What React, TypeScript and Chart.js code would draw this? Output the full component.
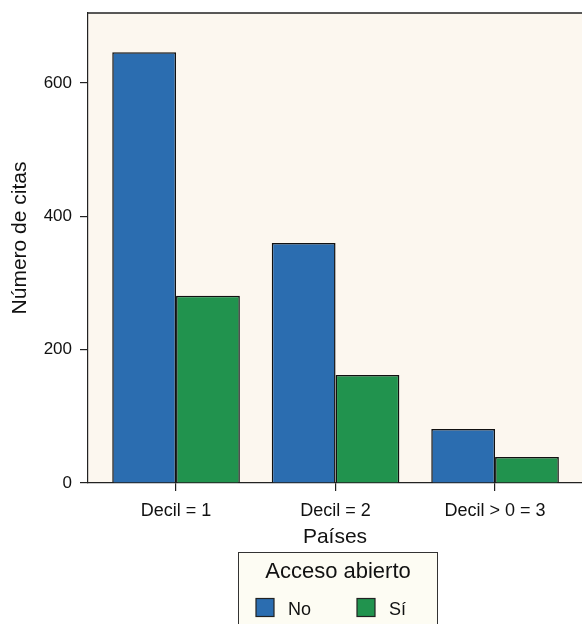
import React, { useEffect, useRef } from "react";
import { Chart, registerables } from "chart.js";

Chart.register(...registerables);

const categories = ["Decil = 1", "Decil = 2", "Decil > 0 = 3"];
const noValues = [646, 360, 81];
const siValues = [281, 162, 39];
const seriesLabels = ["No", "Sí"];
const yTicks = [0, 200, 400, 600];
const legendTitle = "Acceso abierto";
const yTitle = "Número de citas";
const xTitle = "Países";

const BLUE = "#2b6db0";
const GREEN = "#21934e";
const FONT = "'Liberation Sans', Arial, Helvetica, sans-serif";

const decorPlugin = {
  id: "decor",
  beforeDraw(chart: any) {
    const { ctx, chartArea } = chart;
    ctx.save();
    ctx.fillStyle = "#fcf7ef";
    ctx.fillRect(chartArea.left, chartArea.top, chartArea.right - chartArea.left, chartArea.bottom - chartArea.top);
    ctx.restore();
  },
  afterDraw(chart: any) {
    const { ctx, chartArea } = chart;
    ctx.save();
    ctx.strokeStyle = "#222";
    ctx.lineWidth = 1.5;
    ctx.beginPath();
    ctx.moveTo(chartArea.left, chartArea.top);
    ctx.lineTo(chartArea.right, chartArea.top);
    ctx.stroke();

    // y-axis title
    ctx.save();
    ctx.translate(20, 238);
    ctx.rotate(-Math.PI / 2);
    ctx.fillStyle = "#111";
    ctx.font = `21px ${FONT}`;
    ctx.textAlign = "center";
    ctx.textBaseline = "middle";
    ctx.fillText(yTitle, 0, 0);
    ctx.restore();

    // legend box
    const lx = 238.5, ly = 552.5, lw = 199, lh = 80;
    ctx.fillStyle = "#fdfcf3";
    ctx.fillRect(lx, ly, lw, lh);
    ctx.strokeStyle = "#333";
    ctx.lineWidth = 1;
    ctx.strokeRect(lx, ly, lw, lh);
    ctx.fillStyle = "#111";
    ctx.font = `22px ${FONT}`;
    ctx.textAlign = "center";
    ctx.textBaseline = "alphabetic";
    ctx.fillText(legendTitle, lx + lw / 2, 578);
    const items = chart.data.datasets.map((d: any) => ({ label: d.label, color: d.backgroundColor }));
    const xs = [256, 357];
    ctx.font = `18px ${FONT}`;
    ctx.textAlign = "left";
    items.forEach((it: any, i: number) => {
      const x = xs[i];
      ctx.fillStyle = it.color;
      ctx.fillRect(x, 598.5, 18, 18);
      ctx.strokeStyle = "#222";
      ctx.lineWidth = 1.2;
      ctx.strokeRect(x, 598.5, 18, 18);
      ctx.fillStyle = "#111";
      ctx.fillText(it.label, x + 32, 615);
    });
    ctx.restore();
  },
};

export default function App() {
  const ref = useRef<HTMLCanvasElement | null>(null);
  useEffect(() => {
    if (!ref.current) return;
    const chart = new Chart(ref.current, {
      type: "bar",
      data: {
        datasets: [
          {
            label: seriesLabels[0],
            data: noValues.map((v, i) => ({ x: i, y: v })),
            backgroundColor: BLUE,
            borderColor: "#111",
            borderWidth: 1.5,
          },
          {
            label: seriesLabels[1],
            data: siValues.map((v, i) => ({ x: i, y: v })),
            backgroundColor: GREEN,
            borderColor: "#111",
            borderWidth: 1.5,
          },
        ],
      },
      options: {
        animation: false,
        responsive: false,
        devicePixelRatio: 1,
        layout: { padding: { top: 13, left: 0, right: 0, bottom: 74 } },
        datasets: { bar: { categoryPercentage: 0.8, barPercentage: 1.0 } },
        plugins: { legend: { display: false }, tooltip: { enabled: false } },
        scales: {
          x: {
            type: "linear",
            offset: false,
            min: -0.552,
            max: 2.545,
            afterBuildTicks: (s: any) => {
              s.ticks = categories.map((_, i) => ({ value: i }));
            },
            afterFit: (s: any) => {
              s.height = 67;
              s.paddingLeft = 0;
              s.paddingRight = 0;
            },
            ticks: {
              callback: (v: any) => categories[Math.round(Number(v))] ?? "",
              color: "#111",
              font: { family: FONT, size: 18 },
              padding: 9,
              maxRotation: 0,
              autoSkip: false,
            },
            grid: { offset: false, drawOnChartArea: false, tickLength: 8, color: "#222", lineWidth: 1.2 },
            border: { display: true, color: "#222", width: 1.2 },
            title: {
              display: true,
              text: xTitle,
              color: "#111",
              font: { family: FONT, size: 21 },
              padding: { top: 0, bottom: 0 },
            },
          },
          y: {
            min: 0,
            max: 705,
            afterBuildTicks: (s: any) => {
              s.ticks = yTicks.map((v) => ({ value: v }));
            },
            afterFit: (s: any) => {
              s.width = 88;
              s.paddingTop = 0;
              s.paddingBottom = 0;
            },
            ticks: {
              color: "#111",
              font: { family: FONT, size: 17 },
              padding: 8,
              includeBounds: false,
            },
            grid: { drawOnChartArea: false, tickLength: 8, color: "#222", lineWidth: 1.2 },
            border: { display: true, color: "#222", width: 1.2 },
          },
        },
      } as any,
      plugins: [decorPlugin],
    });
    return () => chart.destroy();
  }, []);
  return (
    <div style={{ position: "fixed", left: 0, top: 0, width: 582, height: 624, background: "#fff" }}>
      <canvas ref={ref} width={582} height={624} style={{ width: 582, height: 624, display: "block" }} />
    </div>
  );
}
